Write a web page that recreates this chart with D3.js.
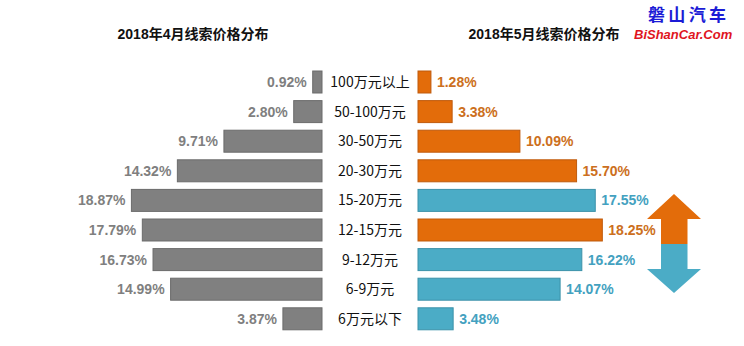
<!DOCTYPE html>
<html>
<head>
<meta charset="utf-8">
<script src="https://cdn.jsdelivr.net/npm/d3@7"></script>
<style>
  html, body { margin: 0; padding: 0; background: #fff; }
  svg text { font-family: "Liberation Sans", Arial, "Noto Sans CJK SC", sans-serif; }
</style>
</head>
<body>
<div id="chart"></div>
<script>
// ------- Data -------
const categories = ["100万元以上", "50-100万元", "30-50万元", "20-30万元", "15-20万元",
  "12-15万元", "9-12万元", "6-9万元", "6万元以下"];
const april = [0.92, 2.80, 9.71, 14.32, 18.87, 17.79, 16.73, 14.99, 3.87];
const may = [1.28, 3.38, 10.09, 15.70, 17.55, 18.25, 16.22, 14.07, 3.48];
const titles = ["2018年4月线索价格分布", "2018年5月线索价格分布"];

// ------- Chart Setup -------
const W = 744, H = 346;
const svg = d3.select("#chart")
  .append("svg")
  .attr("width", W)
  .attr("height", H);

const y = d3.scaleBand()
  .domain(categories)
  .range([63.4, 337.4])
  .padding(0.257);

// left side grows leftwards, right side grows rightwards
const xL = d3.scaleLinear().domain([0, 20]).range([322, 120]);
const xR = d3.scaleLinear().domain([0, 20]).range([418, 620]);

const GRAY = "#808080", ORANGE = "#e36c0a", BLUE = "#4bacc6";
const upColor = (d, i) => d > april[i] ? ORANGE : BLUE;
const stroke = { [GRAY]: "#6b6b6b", [ORANGE]: "#bf5a0c", [BLUE]: "#3b91a9" };
const textColor = { [ORANGE]: "#cc6f20", [BLUE]: "#43a1c0" };

// ------- Titles -------
svg.selectAll(".title")
  .data(titles)
  .enter()
  .append("text")
  .attr("x", (d, i) => i === 0 ? 193 : 544)
  .attr("y", 39)
  .attr("text-anchor", "middle")
  .style("font-size", "14px")
  .style("font-weight", "bold")
  .attr("fill", "#111")
  .text(d => d);

// ------- Left bars (April) -------
svg.append("g")
  .selectAll("rect")
  .data(april)
  .enter()
  .append("rect")
  .attr("x", d => xL(d))
  .attr("y", (d, i) => y(categories[i]))
  .attr("width", d => xL(0) - xL(d))
  .attr("height", y.bandwidth())
  .attr("fill", GRAY)
  .attr("stroke", stroke[GRAY])
  .attr("stroke-width", 1);

svg.append("g")
  .selectAll("text")
  .data(april)
  .enter()
  .append("text")
  .attr("x", d => xL(d) - 6)
  .attr("y", (d, i) => y(categories[i]) + y.bandwidth() / 2)
  .attr("dy", "0.36em")
  .attr("text-anchor", "end")
  .style("font-size", "14px")
  .style("font-weight", "bold")
  .attr("fill", "#7f7f7f")
  .text(d => d.toFixed(2) + "%");

// ------- Right bars (May) -------
svg.append("g")
  .selectAll("rect")
  .data(may)
  .enter()
  .append("rect")
  .attr("x", xR(0))
  .attr("y", (d, i) => y(categories[i]))
  .attr("width", d => xR(d) - xR(0))
  .attr("height", y.bandwidth())
  .attr("fill", (d, i) => upColor(d, i))
  .attr("stroke", (d, i) => stroke[upColor(d, i)])
  .attr("stroke-width", 1);

svg.append("g")
  .selectAll("text")
  .data(may)
  .enter()
  .append("text")
  .attr("x", d => xR(d) + 6)
  .attr("y", (d, i) => y(categories[i]) + y.bandwidth() / 2)
  .attr("dy", "0.36em")
  .style("font-size", "14px")
  .style("font-weight", "bold")
  .attr("fill", (d, i) => textColor[upColor(d, i)])
  .text(d => d.toFixed(2) + "%");

// ------- Category labels -------
svg.append("g")
  .selectAll("text")
  .data(categories)
  .enter()
  .append("text")
  .attr("x", 370)
  .attr("y", d => y(d) + y.bandwidth() / 2)
  .attr("dy", "0.36em")
  .attr("text-anchor", "middle")
  .style("font-family", "'Noto Sans CJK SC', sans-serif")
  .style("font-size", "14px")
  .attr("fill", "#111")
  .text(d => d);

// ------- Up / down arrow -------
const arrow = svg.append("g").attr("transform", "translate(674,244)");
arrow.append("path")
  .attr("d", "M0,-50 L27,-25 L13.5,-25 L13.5,0 L-13,0 L-13,-25 L-27,-25 Z")
  .attr("fill", ORANGE);
arrow.append("path")
  .attr("d", "M0,49 L27,25 L13.5,25 L13.5,0 L-13,0 L-13,25 L-27,25 Z")
  .attr("fill", BLUE);

// ------- Site watermark -------
svg.append("text")
  .attr("x", 687)
  .attr("y", 21)
  .attr("text-anchor", "middle")
  .style("font-family", "'Noto Sans CJK SC', sans-serif")
  .style("font-size", "17px")
  .style("font-weight", "bold")
  .attr("fill", "#1b1bd6")
  .attr("textLength", 78)
  .text("磐山汽车");

svg.append("text")
  .attr("x", 634)
  .attr("y", 39)
  .style("font-size", "13px")
  .style("font-weight", "bold")
  .style("font-style", "italic")
  .attr("fill", "#e0141e")
  .text("BiShanCar.Com");
</script>
</body>
</html>
